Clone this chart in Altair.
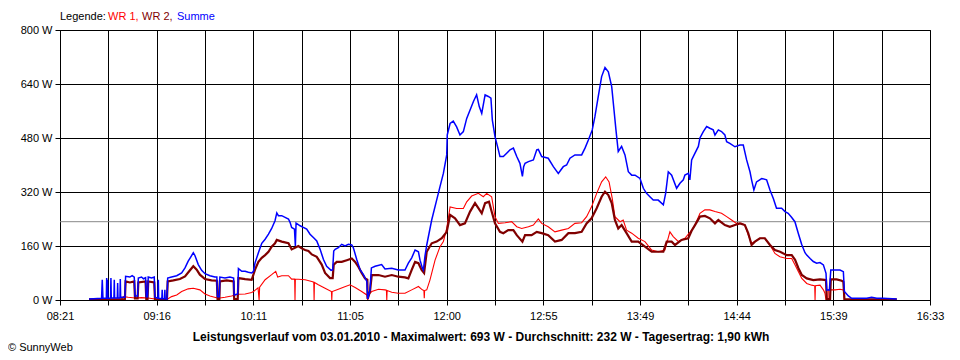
import altair as alt
import pandas as pd

# ---- data (time in minutes since midnight, power in W) ----
sum_t = [517.4, 520, 524.5, 524.9, 525.3, 527.2, 527.4, 527.6, 527.8, 527.9, 528.1, 529.6, 529.8, 530.0,
         531.5, 531.7, 531.9, 533.4, 533.6, 533.8, 534.9, 535.1, 535.3, 537.7, 538.1, 540.5, 541.8, 543.0,
         543.4, 544.9, 545.3, 547.1, 548.2, 549.4, 549.8, 550.5, 550.9, 552.8, 554.3, 554.7, 556.4, 556.6,
         556.8, 558.6, 558.8, 559.0, 560.1, 560.3, 560.5, 561.5, 561.9, 564.1, 567.0, 569.8, 571.7, 573.5,
         575.0, 576.4, 577.3, 579.2, 581.1, 583.0, 585.8, 588.6, 589.7, 590.1, 591.1, 591.4, 594.3, 597.1,
         599.2, 599.5, 601.5, 601.9, 603.8, 605.7, 607.5, 609.4, 610.4, 611.3, 613.2, 615.1, 617.0, 618.9,
         620.7, 622.6, 623.6, 624.5, 626.4, 628.3, 630.2, 631.1, 632.0, 633.6, 634.1, 634.5, 636.8, 638.6,
         640.5, 642.4, 644.3, 646.2, 648.1, 650.0, 651.8, 654.3, 655.2, 655.8, 656.6, 658.4, 660.3, 662.2,
         664.1, 666.0, 666.9, 668.8, 670.7, 672.6, 674.5, 675.0, 676.3, 677.1, 679.2, 682.9, 684.8, 688.6,
         692.3, 696.1, 698.0, 699.9, 701.8, 703.7, 704.6, 705.9, 706.5, 707.4, 708.4, 711.2, 714.0, 715.9,
         717.8, 719.7, 720.0, 721.6, 723.4, 725.3, 727.2, 729.1, 731.0, 732.9, 734.8, 736.6, 738.1, 739.5,
         741.4, 743.2, 744.7, 745.5, 747.0, 748.9, 749.8, 751.7, 753.6, 755.5, 757.4, 759.3, 761.1, 762.5,
         763.2, 764.0, 765.9, 768.7, 770.6, 771.5, 773.4, 777.1, 780.0, 782.8, 785.6, 787.5, 789.4, 792.2,
         796.0, 797.9, 799.8, 802.0, 803.5, 805.4, 807.3, 809.2, 811.1, 813.0, 814.3, 815.4, 816.7, 818.6,
         820.5, 822.4, 824.3, 826.2, 829.0, 830.9, 832.7, 834.6, 836.5, 839.3, 842.2, 843.5, 845.0, 846.9,
         849.7, 851.6, 853.5, 854.4, 856.3, 857.2, 858.2, 860.1, 862.0, 862.9, 864.8, 866.7, 868.5, 870.4,
         871.4, 873.3, 875.1, 877.0, 878.0, 879.8, 882.7, 885.5, 887.4, 889.3, 891.2, 892.1, 893.4, 894.9,
         897.8, 900.6, 902.5, 904.4, 906.2, 909.1, 911.0, 912.8, 914.7, 916.6, 918.5, 920.4, 922.3, 923.3,
         925.2, 927.0, 928.9, 930.8, 932.7, 934.2, 934.6, 936.1, 936.9, 939.3, 942.1, 944.0, 944.6, 946.8,
         948.7, 951.6, 957.2, 960.0, 962.9, 966.6, 974.2]
sum_w = [3, 4, 5, 60, 5, 5, 65, 5, 5, 60, 5, 6, 65, 6,
         6, 60, 6, 6, 50, 6, 6, 62, 8, 8, 70, 68, 72, 68,
         12, 12, 65, 68, 63, 66, 10, 10, 68, 65, 68, 8, 5, 60,
         5, 4, 30, 4, 4, 30, 4, 3, 65, 68, 72, 80, 95, 115,
         128, 140, 132, 105, 88, 78, 72, 68, 68, 10, 10, 68, 65, 68,
         65, 15, 18, 93, 85, 85, 82, 80, 85, 110, 140, 168, 180, 195,
         212, 235, 258, 250, 250, 245, 240, 230, 215, 210, 160, 228, 220, 215,
         210, 195, 185, 175, 150, 120, 100, 88, 90, 145, 150, 155, 165, 160,
         165, 163, 155, 120, 90, 75, 55, 3, 30, 95, 100, 105, 92, 94,
         89, 89, 109, 125, 148, 143, 118, 95, 89, 130, 163, 237, 296, 336,
         375, 430, 489, 523, 530, 513, 489, 499, 538, 563, 588, 608, 573, 553,
         608, 603, 598, 533, 484, 445, 425, 425, 435, 445, 450, 425, 405, 366,
         395, 405, 410, 415, 445, 446, 425, 420, 395, 375, 395, 400, 420, 430,
         430, 450, 474, 504, 543, 603, 662, 689, 676, 632, 563, 504, 440, 455,
         430, 380, 370, 370, 360, 331, 316, 306, 296, 296, 282, 316, 380, 370,
         331, 346, 356, 370, 375, 356, 415, 435, 455, 480, 499, 514, 509, 504,
         489, 504, 499, 489, 469, 464, 454, 459, 459, 415, 380, 356, 326, 350,
         360, 356, 326, 301, 272, 272, 262, 257, 245, 232, 198, 165, 140, 133,
         123, 114, 109, 111, 104, 79, 30, 30, 89, 89, 89, 84, 25, 12,
         5, 5, 5, 8, 5, 5, 3]

wr2_t = [517.4, 537.7, 538.1, 540.5, 543.0, 543.4, 544.9, 545.3, 549.4, 549.8, 550.5, 550.9, 554.3, 554.7,
         561.5, 561.9, 565.1, 568.8, 571.7, 574.5, 576.4, 578.3, 580.1, 583.0, 586.7, 589.7, 590.1, 591.1,
         591.4, 595.2, 599.2, 599.5, 601.5, 601.9, 605.7, 609.4, 611.3, 613.2, 615.1, 617.0, 618.9, 620.7,
         622.6, 623.6, 626.4, 630.2, 632.0, 633.9, 635.8, 637.7, 639.6, 641.5, 643.4, 646.2, 649.0, 650.9,
         653.7, 655.2, 655.8, 657.5, 660.3, 663.2, 666.0, 667.9, 669.8, 671.6, 673.5, 674.8, 675.0, 676.3,
         677.3, 681.1, 684.8, 688.6, 692.3, 696.1, 698.0, 699.9, 701.8, 703.7, 705.5, 706.9, 708.4, 711.2,
         714.0, 716.9, 719.7, 721.6, 724.4, 727.2, 730.0, 732.9, 735.7, 737.6, 739.5, 741.4, 743.6, 745.1,
         747.0, 749.8, 751.7, 754.5, 757.4, 759.3, 762.5, 764.0, 767.7, 770.6, 773.4, 777.1, 780.9, 784.7,
         788.5, 792.2, 796.0, 798.8, 801.6, 804.5, 807.3, 809.2, 811.1, 813.0, 814.8, 816.7, 818.6, 821.4,
         824.3, 828.0, 831.8, 835.6, 839.3, 842.2, 844.1, 846.9, 848.8, 852.5, 856.3, 858.2, 860.1, 862.9,
         865.7, 868.5, 871.4, 873.3, 877.0, 879.8, 882.7, 885.5, 888.3, 890.2, 892.1, 894.0, 896.8, 899.6,
         902.5, 905.3, 908.2, 912.0, 914.8, 916.7, 918.6, 920.5, 923.3, 927.0, 930.8, 934.2, 934.6, 936.5,
         936.9, 940.2, 943.1, 944.0, 944.6, 974.2]
wr2_w = [2, 3, 55, 52, 55, 5, 5, 52, 55, 3, 3, 55, 52, 2,
         2, 55, 58, 62, 70, 88, 100, 90, 75, 62, 58, 57, 3, 3,
         55, 58, 55, 3, 3, 65, 62, 60, 90, 113, 125, 133, 143, 158,
         168, 178, 173, 168, 150, 155, 160, 153, 148, 145, 135, 128, 105, 80,
         65, 65, 105, 113, 113, 118, 123, 113, 98, 80, 64, 60, 3, 25,
         74, 74, 69, 74, 69, 67, 64, 89, 113, 109, 89, 80, 143, 168,
         173, 183, 202, 252, 242, 222, 227, 262, 287, 272, 257, 287, 291, 262,
         227, 202, 198, 207, 207, 192, 173, 192, 192, 202, 198, 192, 173, 178,
         198, 198, 202, 227, 242, 272, 306, 321, 311, 287, 237, 212, 222, 198,
         173, 173, 158, 143, 143, 143, 173, 173, 163, 178, 183, 205, 222, 247,
         249, 242, 227, 237, 222, 217, 222, 227, 222, 198, 163, 173, 183, 183,
         163, 148, 143, 133, 133, 119, 94, 74, 64, 59, 61, 59, 3, 3,
         61, 61, 57, 54, 2, 2]

wr1_t = [517.4, 535.8, 536.8, 539.6, 543.4, 547.1, 550.9, 554.7, 561.3, 564.1, 567.0, 569.8, 573.5, 576.4,
         580.1, 583.0, 585.8, 590.5, 594.3, 598.0, 601.8, 605.7, 609.4, 610.4, 613.0, 613.6, 613.9, 617.0,
         620.7, 623.0, 624.1, 626.4, 630.2, 632.0, 633.7, 633.9, 634.1, 639.6, 643.4, 644.5, 644.7, 644.9,
         647.1, 650.9, 654.5, 654.7, 654.9, 658.4, 661.3, 665.0, 667.9, 671.6, 674.5, 675.0, 675.4, 677.3,
         681.1, 684.8, 685.6, 685.8, 686.0, 688.6, 692.3, 696.1, 699.9, 703.7, 705.9, 706.8, 707.0, 707.2,
         708.4, 710.2, 713.1, 715.9, 717.8, 719.7, 721.6, 725.3, 729.1, 731.0, 733.8, 737.6, 740.4, 742.3,
         745.1, 747.0, 748.9, 752.7, 756.4, 759.3, 762.1, 765.9, 768.7, 771.5, 773.4, 777.1, 780.9, 784.7,
         788.5, 792.2, 796.0, 798.8, 801.6, 804.5, 807.3, 809.6, 811.5, 813.3, 814.8, 817.7, 819.5, 821.4,
         824.3, 828.0, 831.8, 835.6, 839.3, 843.1, 845.9, 847.8, 850.7, 854.4, 858.2, 860.1, 862.9, 865.7,
         868.5, 871.4, 875.1, 878.0, 880.8, 883.6, 886.4, 888.3, 890.2, 892.1, 894.0, 896.8, 899.6, 902.5,
         905.3, 908.1, 912.0, 914.8, 916.7, 918.6, 920.5, 923.3, 926.1, 927.8, 928.0, 928.2, 930.8, 932.7,
         933.6, 934.2, 935.3, 935.5, 939.3, 942.1, 944.0, 944.6, 974.2]
wr1_w = [0, 2, 10, 8, 6, 7, 6, 3, 1, 10, 15, 25, 33, 35,
         30, 18, 12, 5, 8, 12, 17, 18, 22, 25, 36, 0, 38, 60,
         75, 85, 68, 72, 72, 62, 62, 0, 62, 60, 55, 53, 0, 52,
         45, 35, 25, 0, 25, 32, 38, 45, 37, 25, 15, 0, 15, 25,
         32, 30, 29, 0, 28, 23, 20, 20, 30, 40, 30, 28, 5, 28,
         30, 59, 118, 158, 173, 212, 276, 271, 271, 291, 308, 316, 306, 316,
         306, 247, 227, 229, 232, 217, 212, 217, 222, 240, 227, 217, 202, 207,
         212, 227, 229, 247, 276, 316, 350, 365, 350, 301, 247, 232, 237, 207,
         198, 183, 173, 148, 143, 148, 202, 188, 173, 183, 207, 222, 257, 267,
         267, 262, 257, 247, 237, 227, 227, 222, 193, 168, 173, 183, 183, 163,
         138, 128, 123, 123, 104, 84, 64, 49, 44, 42, 0, 42, 44, 30,
         20, 0, 0, 30, 30, 32, 30, 0, 0]

average_w = 232
x_tick_labels = ["08:21", "09:16", "10:11", "11:05", "12:00", "12:55", "13:49", "14:44", "15:39", "16:33"]
y_ticks = [0, 160, 320, 480, 640, 800]
legend_texts = ["Legende:", "WR 1,", "WR 2,", "Summe"]
legend_colors = ["black", "#ff0000", "#800000", "#0000ff"]
title_text = "Leistungsverlauf vom 03.01.2010 - Maximalwert: 693 W - Durchschnitt: 232 W - Tagesertrag: 1,90 kWh"
credit_text = "\u00a9 SunnyWeb"

T0, T1 = 501, 993
FONT = "Liberation Sans"


def frame(ts, ws):
    return pd.DataFrame({"t": ts, "w": ws, "i": list(range(len(ts)))})


step = (T1 - T0) / 18.0
x_vals = [T0 + k * step for k in range(19)]
arr = "[" + ",".join("'%s'" % s for s in x_tick_labels) + "]"
x_label_expr = ("round((datum.value-%d)/%.6f) %% 2 == 0 ? %s[round((datum.value-%d)/%.6f)] : ''"
                % (T0, step, arr, T0, 2 * step))

x_enc = alt.X("t:Q", scale=alt.Scale(domain=[T0, T1], nice=False, zero=False),
              axis=alt.Axis(values=x_vals, labelExpr=x_label_expr, title=None, grid=True,
                            gridColor="black", gridOpacity=1, gridWidth=1,
                            tickColor="black", tickSize=5, domainColor="black",
                            labelColor="black", labelFont=FONT, labelFontSize=11,
                            labelPadding=5, labelFlush=False, labelOverlap=False, labelBound=False))
y_enc = alt.Y("w:Q", scale=alt.Scale(domain=[0, 800], nice=False, zero=True),
              axis=alt.Axis(values=y_ticks, labelExpr="datum.value + ' W'", title=None, grid=True,
                            gridColor="black", gridOpacity=1, gridWidth=1,
                            tickColor="black", tickSize=5, domainColor="black",
                            labelColor="black", labelFont=FONT, labelFontSize=11,
                            labelPadding=3, labelOverlap=False, labelFlush=False))

avg_rule = alt.Chart(pd.DataFrame({"w": [average_w]})).mark_rule(color="#888888", strokeWidth=1).encode(
    y=alt.Y("w:Q", scale=alt.Scale(domain=[0, 800], nice=False)))


def line(ts, ws, color, width):
    return alt.Chart(frame(ts, ws)).mark_line(color=color, strokeWidth=width, clip=True).encode(
        x=x_enc, y=y_enc, order=alt.Order("i:Q"))


l_wr1 = line(wr1_t, wr1_w, "#ff0000", 1.1)
l_wr2 = line(wr2_t, wr2_w, "#800000", 2.2)
l_sum = line(sum_t, sum_w, "#0000ff", 1.5)

legend_x = [0, 48, 82, 117]
leg_layers = []
for txt, col, xx in zip(legend_texts, legend_colors, legend_x):
    leg_layers.append(
        alt.Chart(pd.DataFrame({"a": [0]})).mark_text(
            align="left", baseline="middle", font=FONT, fontSize=11, color=col
        ).encode(x=alt.value(xx), y=alt.value(-13), text=alt.value(txt))
    )

title_layer = alt.Chart(pd.DataFrame({"a": [0]})).mark_text(
    align="center", baseline="middle", font=FONT, fontSize=12, fontWeight="bold", color="black"
).encode(x=alt.value(421), y=alt.value(307), text=alt.value(title_text))

credit_layer = alt.Chart(pd.DataFrame({"a": [0]})).mark_text(
    align="left", baseline="middle", font=FONT, fontSize=11, color="black"
).encode(x=alt.value(-52), y=alt.value(318), text=alt.value(credit_text))

chart = alt.layer(avg_rule, l_wr1, l_wr2, l_sum, *leg_layers, title_layer, credit_layer).properties(
    width=870, height=270,
    autosize=alt.AutoSizeParams(type="none"),
    padding={"left": 52, "top": 22, "right": 22, "bottom": 54},
    background="white",
).configure_view(stroke="black", strokeWidth=1)

chart.save("out.html", embed_options={"renderer": "svg", "actions": False})
